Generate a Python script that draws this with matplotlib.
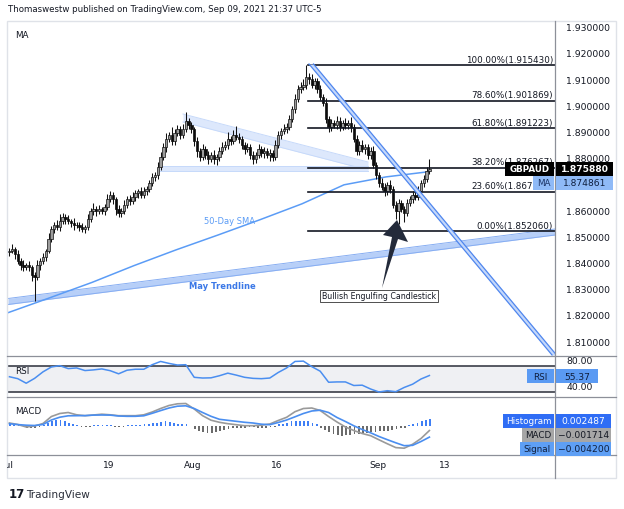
import numpy as np
import pandas as pd
import matplotlib
matplotlib.use("Agg")
import matplotlib.pyplot as plt
from matplotlib.patches import Rectangle, Polygon
from matplotlib.lines import Line2D
from matplotlib.transforms import Bbox, TransformedBbox, blended_transform_factory, offset_copy

plt.rcParams['font.family'] = ['DejaVu Sans']

# ---------------- data ----------------
symbol = "GBPAUD"
title = "Thomaswestw published on TradingView.com, Sep 09, 2021 21:37 UTC-5"
start_date = "2021-07-01"
candles_per_day = 3
first_open = 1.8440
closes = [
    1.8445, 1.8452, 1.8433, 1.8406, 1.8391, 1.8383, 1.8391, 1.8383, 1.8353, 1.8345,
    1.8391, 1.8406, 1.8422, 1.8445, 1.8490, 1.8528, 1.8544, 1.8536, 1.8559, 1.8574,
    1.8566, 1.8559, 1.8551, 1.8544, 1.8544, 1.8536, 1.8528, 1.8536, 1.8566, 1.8597,
    1.8605, 1.8597, 1.8605, 1.8597, 1.8612, 1.8643, 1.8658, 1.8643, 1.8605, 1.8589,
    1.8597, 1.8620, 1.8643, 1.8635, 1.8650, 1.8666, 1.8673, 1.8658, 1.8673, 1.8681,
    1.8704, 1.8727, 1.8734, 1.8765, 1.8803, 1.8841, 1.8872, 1.8887, 1.8864, 1.8895,
    1.8910, 1.8887, 1.8910, 1.8940, 1.8925, 1.8910, 1.8864, 1.8826, 1.8803, 1.8834,
    1.8811, 1.8795, 1.8811, 1.8795, 1.8803, 1.8826, 1.8841, 1.8849, 1.8872, 1.8864,
    1.8887, 1.8880, 1.8872, 1.8849, 1.8834, 1.8841, 1.8811, 1.8795, 1.8811, 1.8834,
    1.8818, 1.8826, 1.8811, 1.8818, 1.8803, 1.8849, 1.8887, 1.8902, 1.8910, 1.8917,
    1.8948, 1.8986, 1.9024, 1.9063, 1.9070, 1.9078, 1.9108, 1.9101, 1.9078, 1.9093,
    1.9063, 1.9032, 1.9009, 1.8948, 1.8917, 1.8933, 1.8925, 1.8940, 1.8917, 1.8933,
    1.8925, 1.8933, 1.8917, 1.8872, 1.8826, 1.8849, 1.8834, 1.8841, 1.8811, 1.8826,
    1.8773, 1.8734, 1.8704, 1.8689, 1.8673, 1.8696, 1.8681, 1.8620, 1.8597, 1.8627,
    1.8605, 1.8589, 1.8627, 1.8643, 1.8658, 1.8650, 1.8673, 1.8704, 1.8719, 1.8750,
    1.87588]
wick_up_pips = [
    12, 20, 8, 15, 10, 18, 6, 14, 9, 12,
    20, 10, 15, 8, 22, 10, 12, 18, 25, 14,
    10, 16, 8, 20, 12, 10, 15, 9, 18, 12,
    22, 10, 14, 8, 12, 20, 15, 10, 8, 14,
    12, 18, 10, 15, 20, 12, 8, 14, 16, 10,
    12, 14, 10, 18, 20, 15, 24, 12, 30, 16,
    14, 10, 18, 35, 12, 10, 8, 14, 12, 20,
    10, 15, 12, 18, 10, 14, 20, 16, 28, 12,
    18, 34, 14, 10, 12, 16, 10, 14, 12, 18,
    10, 14, 12, 16, 10, 20, 15, 12, 18, 14,
    16, 12, 20, 14, 18, 22, 46, 14, 20, 12,
    10, 14, 12, 18, 10, 16, 12, 20, 14, 12,
    18, 10, 22, 12, 16, 14, 18, 10, 12, 14,
    18, 10, 12, 20, 14, 12, 18, 10, 14, 16,
    12, 10, 14, 12, 16, 14, 18, 12, 16, 14,
    36]
wick_dn_pips = [
    14, 10, 18, 12, 20, 15, 10, 16, 22, 92,
    12, 18, 10, 14, 8, 12, 16, 10, 14, 12,
    18, 10, 14, 20, 12, 16, 10, 14, 12, 10,
    14, 18, 12, 10, 15, 12, 10, 18, 22, 16,
    14, 10, 12, 16, 10, 14, 18, 12, 10, 14,
    12, 10, 16, 14, 12, 10, 18, 12, 14, 16,
    10, 14, 12, 10, 16, 14, 18, 22, 14, 12,
    16, 20, 12, 18, 24, 14, 10, 12, 16, 14,
    10, 12, 14, 16, 18, 12, 14, 20, 16, 12,
    14, 18, 12, 22, 14, 10, 12, 16, 10, 14,
    12, 10, 14, 12, 16, 10, 14, 18, 12, 16,
    14, 12, 10, 16, 18, 14, 12, 16, 14, 12,
    16, 14, 18, 12, 16, 14, 12, 18, 14, 16,
    12, 14, 16, 12, 18, 14, 16, 12, 30, 50,
    12, 34, 12, 10, 14, 12, 10, 12, 14, 12,
    10]

sma_days = [0, 5, 10, 15, 20, 25, 30, 35, 37.5, 40, 45, 50, 50.17]
sma_values = [1.82088, 1.82660, 1.83244, 1.83885, 1.84485, 1.85053, 1.85637,
              1.86244, 1.86607, 1.86969, 1.87271, 1.87466, 1.874861]

# one value per trading day
rsi_values = [53.5, 50.5, 43.5, 51, 61, 68.5, 70.5, 66, 67, 63,
              64, 65.5, 62.8, 58, 63.5, 65, 65, 72, 77, 74,
              71.5, 72, 52.6, 51.5, 51.8, 55, 59, 56, 52.6, 51,
              50.5, 51.5, 60, 67, 77, 77.5, 69, 62, 45, 45.5,
              45.5, 40, 40.5, 34.6, 30, 32, 30.5, 37, 42, 50,
              55.37]
macd_values = [0.00113, 0.00057, -0.00038, 0.0, 0.00094, 0.00358, 0.00472, 0.00509, 0.00423, 0.00389,
               0.00415, 0.00445, 0.00423, 0.00389, 0.00389, 0.00389, 0.00423, 0.00528, 0.0066, 0.00774,
               0.00838, 0.00849, 0.00642, 0.00389, 0.00219, 0.0014, 0.00087, 0.00049, 0.00011, 0.00011,
               0.0003, 0.00075, 0.00208, 0.00328, 0.0054, 0.0066, 0.00679, 0.00585, 0.00358, 0.00151,
               -0.00038, -0.0017, -0.00283, -0.00366, -0.00521, -0.00672, -0.00815, -0.00838, -0.0069, -0.00472,
               -0.001714]
signal_values = [0.00087, 0.00053, 0.0003, 0.00019, 0.00057, 0.00226, 0.00332, 0.00385, 0.00389, 0.00392,
                 0.00411, 0.00415, 0.00411, 0.00377, 0.00366, 0.00366, 0.00385, 0.00479, 0.00581, 0.00679,
                 0.00747, 0.00762, 0.0066, 0.00509, 0.00366, 0.00253, 0.00215, 0.00177, 0.0014, 0.00113,
                 0.00068, 0.00049, 0.00132, 0.00226, 0.00347, 0.00472, 0.00566, 0.00596, 0.00509, 0.00321,
                 0.0017, 0.00008, -0.00132, -0.00257, -0.00396, -0.00517, -0.00634, -0.00743, -0.0073, -0.00585,
                 -0.0042]
# two histogram bars per trading day
hist_values = [0.00057, 0.00057, 0.00038, 0.0, -0.00057, -0.00075, -0.00075, -0.00038, 0.00038, 0.00113,
               0.0017, 0.00208, 0.00208, 0.0017, 0.00132, 0.00094, 0.00038, -0.00019, -0.0003, -0.00019,
               0.00019, 0.00019, 0.0003, 0.0003, 0.00019, -0.00019, -0.00019, -0.00019, 0.00019, 0.0003,
               0.00019, 0.00038, 0.00057, 0.00075, 0.00113, 0.00132, 0.00151, 0.0017, 0.00151, 0.00113,
               0.00094, 0.00075, 0.00057, 0.0, -0.00113, -0.00189, -0.00245, -0.00283, -0.00264, -0.00245,
               -0.00189, -0.00151, -0.00113, -0.00094, -0.00075, -0.00057, -0.00057, -0.00038, -0.00038, -0.00057,
               -0.00057, -0.00057, -0.00038, -0.00019, 0.00057, 0.00094, 0.00132, 0.0017, 0.00189, 0.00189,
               0.00189, 0.0017, 0.00113, 0.00057, -0.00057, -0.00151, -0.00245, -0.0032, -0.0034, -0.00377,
               -0.00358, -0.0034, -0.0032, -0.00302, -0.00283, -0.00264, -0.00245, -0.00226, -0.00207, -0.00189,
               -0.0017, -0.00151, -0.00132, -0.00094, -0.00057, 0.00019, 0.00075, 0.00132, 0.00189, 0.00226,
               0.002487]

fib_levels = ["100.00%", "78.60%", "61.80%", "38.20%", "23.60%", "0.00%"]
fib_prices = [1.915430, 1.901869, 1.891223, 1.876267, 1.867015, 1.852060]

tick_dates = ["2021-07-01", "2021-07-19", "2021-08-02", "2021-08-16", "2021-09-01", "2021-09-13"]
tick_labels = ["Jul", "19", "Aug", "16", "Sep", "13"]

price_ticks = [1.81, 1.82, 1.83, 1.84, 1.85, 1.86, 1.88, 1.89, 1.90, 1.91, 1.92, 1.93]
rsi_ticks = [80, 40]

last_price = 1.875880
ma_last = 1.874861
rsi_last = 55.37
hist_last = 0.002487
macd_last = -0.001714
signal_last = -0.004200

# ---------------- layout helpers (pixel geometry of the screenshot) ----------------
W, H = 624, 510
fig = plt.figure(figsize=(W / 100, H / 100), dpi=100)
fig.patch.set_facecolor("white")

def fx(px):
    return px / W

def fy(py):
    return 1 - py / H

X0, X1 = 7, 555          # plot area horizontal extent (px)
PPD = 8.4                # px per trading day
def T(px):               # px -> trading day
    return (px - 8) / PPD
def P(py):               # px -> price (main pane)
    return 1.92 - (py - 54) / 2620.0
def R(py):               # px -> rsi
    return 70 - (py - 367) / 0.65
def M(py):               # px -> macd
    return (427 - py) / 2650.0

ax = fig.add_axes([fx(X0), fy(357), (X1 - X0) / W, (357 - 22) / H])
ax_rsi = fig.add_axes([fx(X0), fy(398), (X1 - X0) / W, (398 - 357) / H])
ax_macd = fig.add_axes([fx(X0), fy(456), (X1 - X0) / W, (456 - 398) / H])

for a in (ax, ax_rsi, ax_macd):
    a.set_xlim(T(X0), T(X1))
    for s in a.spines.values():
        s.set_visible(False)
    a.set_xticks([])
    a.set_facecolor("white")

ax.set_ylim(P(357), P(22))
ax_rsi.set_ylim(R(398), R(357))
ax_macd.set_ylim(M(456), M(398))

TXT = "#131722"
FS = 6.3

# price scale
ax.yaxis.tick_right()
ax.set_yticks(price_ticks)
ax.set_yticklabels([f"{v:.6f}" for v in price_ticks])
ax.tick_params(axis="y", length=0, pad=8, labelsize=6.7, labelcolor=TXT)

ax_rsi.yaxis.tick_right()
ax_rsi.set_yticks(rsi_ticks)
ax_rsi.set_yticklabels([f"{v:.2f}" for v in rsi_ticks])
ax_rsi.tick_params(axis="y", length=0, pad=8, labelsize=6.7, labelcolor=TXT)
ax_macd.set_yticks([])

# ---------------- candles ----------------
n = len(closes)
c = np.array(closes)
o = np.array([first_open] + closes[:-1])
t = (np.arange(n) + 0.5) / candles_per_day
hi = np.maximum(o, c) + np.array(wick_up_pips) * 1e-4
lo = np.minimum(o, c) - np.array(wick_dn_pips) * 1e-4
up = c >= o
bottom = np.minimum(o, c)
height = np.maximum(np.abs(c - o), 0.00012)
ax.vlines(t, lo, hi, color="#111111", lw=0.75, zorder=4)
ax.bar(t[up], height[up], bottom=bottom[up], width=0.27, color="#9c9c9c",
       edgecolor="#111111", linewidth=0.5, zorder=5)
ax.bar(t[~up], height[~up], bottom=bottom[~up], width=0.27, color="#0d0d0d",
       edgecolor="#0d0d0d", linewidth=0.5, zorder=5)

# ---------------- drawings on main pane ----------------
BLUE = "#5b9cf6"
# May trendline band
mx = np.array([T(8), T(555)])
mtop = np.array([P(299.5), P(230)])
mbot = np.array([P(305.5), P(236)])
ax.fill_between(mx, mbot, mtop, color="#b7cff8", zorder=2, lw=0)
ax.plot(mx, mtop, color="#86adf2", lw=0.7, zorder=2)
ax.plot(mx, mbot, color="#86adf2", lw=0.7, zorder=2)

# descending pale band from August high
dx = np.array([T(183), T(368)])
ax.fill_between(dx, [P(123), P(171)], [P(115), P(163)], color="#dde8fc", zorder=1, lw=0)
ax.plot(dx, [P(115), P(163)], color="#c6d9fa", lw=0.7, zorder=1)
ax.plot(dx, [P(123), P(171)], color="#c6d9fa", lw=0.7, zorder=1)
# horizontal pale support band
hx = np.array([T(160), T(368)])
ax.fill_between(hx, [P(172), P(172)], [P(166.5), P(166.5)], color="#dde8fc", zorder=1, lw=0)
ax.plot(hx, [P(166.5)] * 2, color="#c6d9fa", lw=0.7, zorder=1)
ax.plot(hx, [P(172)] * 2, color="#c6d9fa", lw=0.7, zorder=1)

# 50-day SMA
ax.plot(sma_days, sma_values, color=BLUE, lw=1.1, zorder=3)

# fibonacci retracement
fib_start = T(308)
for lvl, pr in zip(fib_levels, fib_prices):
    ax.plot([fib_start, T(X1)], [pr, pr], color=TXT, lw=1.2, zorder=6)
    ax.text(T(553), pr, f"{lvl}({pr:.6f})", ha="right", va="bottom", fontsize=FS,
            color=TXT, zorder=7,
            transform=offset_copy(ax.transData, fig=fig, y=1.0, units="points"))

# down-sloping channel from the peak
cx = np.array([T(309), T(552)])
cy = np.array([P(65), P(356)])
cx2 = cx + 4.5 / PPD
ax.fill_betweenx(cy, cx, cx2, color="#c4d8fb", zorder=6, lw=0)
ax.plot(cx, cy, color="#4f86ee", lw=0.9, zorder=6)
ax.plot(cx2, cy, color="#4f86ee", lw=0.9, zorder=6)

# annotations
ax.text(T(230), P(222), "50-Day SMA", color=BLUE, fontsize=6, ha="center", va="center", zorder=7)
ax.text(T(222), P(287), "May Trendline", color="#3b78e7", fontsize=6, ha="center", va="center",
        fontweight="bold", zorder=7)
ax.text(T(379), P(297), "Bullish Engulfing Candlestick", color=TXT, fontsize=5.7, ha="center",
        va="center", zorder=8,
        bbox=dict(boxstyle="square,pad=0.25", facecolor="white", edgecolor="#333333", linewidth=0.6))
arrow_px = [(397, 221), (408, 243), (398, 240), (382, 289), (392, 238), (383, 236)]
ax.add_patch(Polygon([(T(x), P(y)) for x, y in arrow_px], closed=True, facecolor="#232a3a",
                     edgecolor="none", zorder=8))
ax.text(T(15), P(36), "MA", fontsize=6.3, color=TXT, ha="left", va="center")

# ---------------- RSI pane ----------------
ind_t = t[::candles_per_day][:len(rsi_values)]
ax_rsi.axhspan(30, 70, color="#eff0f3", zorder=0, lw=0)
ax_rsi.axhline(70, color="#2a2e39", lw=1.1, zorder=1)
ax_rsi.axhline(30, color="#2a2e39", lw=1.1, zorder=1)
ax_rsi.plot(ind_t, rsi_values, color="#4a8ef0", lw=1.1, zorder=3)
ax_rsi.text(T(15), R(371), "RSI", fontsize=6.3, color=TXT, ha="left", va="center")

# ---------------- MACD pane ----------------
ht = (np.arange(len(hist_values)) + 0.5) / 2
hv = np.array(hist_values)
ax_macd.bar(ht, hv, width=0.22, color=np.where(hv >= 0, "#3f7ff5", "#6b6b6b"), zorder=1, lw=0)
ax_macd.plot(ind_t, macd_values, color="#9a9a9a", lw=1.2, zorder=2)
ax_macd.plot(ind_t, signal_values, color="#4a8ef0", lw=1.2, zorder=3)
ax_macd.text(T(15), M(411), "MACD", fontsize=6.3, color=TXT, ha="left", va="center")

# ---------------- time axis ----------------
tick_pos = [np.busday_count(start_date, d) for d in tick_dates]
btr = blended_transform_factory(ax_macd.transData, fig.transFigure)
clip = TransformedBbox(Bbox([[fx(7), 0], [fx(555), 1]]), fig.transFigure)
for p_, lab in zip(tick_pos, tick_labels):
    tt = fig.text(p_, fy(466), lab, transform=btr, fontsize=6.5, color=TXT, ha="center", va="center")
    tt.set_clip_box(clip)
    tt.set_clip_on(True)

# ---------------- frame & separators ----------------
fig.add_artist(Rectangle((fx(7), fy(479)), (616 - 7) / W, (479 - 22) / H, transform=fig.transFigure,
                         facecolor="none", edgecolor="#dfe2e8", lw=1.0, zorder=1))
for yy in (357, 398, 456):
    fig.add_artist(Line2D([fx(7), fx(616)], [fy(yy), fy(yy)], transform=fig.transFigure,
                          color="#8d9099", lw=0.9, zorder=2))
fig.add_artist(Line2D([fx(555), fx(555)], [fy(22), fy(479)], transform=fig.transFigure,
                      color="#8d9099", lw=0.9, zorder=2))

# ---------------- scale labels (boxes) ----------------
def box(x0, x1, yc, color, text, tcolor, bold=False, h=14, fs=6.3):
    fig.add_artist(Rectangle((fx(x0), fy(yc + h / 2)), (x1 - x0) / W, h / H, transform=fig.transFigure,
                             facecolor=color, edgecolor="none", zorder=5))
    fig.text(fx((x0 + x1) / 2), fy(yc), text, fontsize=fs, color=tcolor, ha="center", va="center",
             fontweight="bold" if bold else "normal", zorder=6)

box(505, 554, 170, "#000000", symbol, "white", bold=True)
box(556, 613, 170, "#000000", f"{last_price:.6f}", "white", bold=True, fs=6.6)
box(533, 554, 184, "#8fbaf7", "MA", "#1c3466")
box(556, 613, 184, "#8fbaf7", f"{ma_last:.6f}", "#0f1e3d", fs=6.6)
box(527, 554, 377, "#5a9af3", "RSI", "#0f1e3d")
box(556, 598, 377, "#5a9af3", f"{rsi_last:.2f}", "#0f1e3d", fs=6.6)
box(503, 554, 422, "#2f6df5", "Histogram", "white")
box(556, 611, 422, "#2f6df5", f"{hist_last:.6f}", "white", fs=6.6)
box(522, 554, 436, "#a6a6a6", "MACD", TXT)
box(556, 611, 436, "#a6a6a6", f"{macd_last:.6f}".replace("-", "\u2212"), TXT, fs=6.6)
box(520, 554, 450, "#5e9ff5", "Signal", "#0f1e3d")
box(556, 611, 450, "#5e9ff5", f"{signal_last:.6f}".replace("-", "\u2212"), "#0f1e3d", fs=6.6)

# ---------------- header / footer ----------------
fig.text(fx(8), fy(10), title, fontsize=6.2, color=TXT, ha="left", va="center")
fig.text(fx(9), fy(495), "17", fontsize=8.5, fontweight="bold", color=TXT, ha="left", va="center")
fig.text(fx(26), fy(495), "TradingView", fontsize=7.6, color="#2a2e39", ha="left", va="center")

fig.savefig("out.png", dpi=100)
